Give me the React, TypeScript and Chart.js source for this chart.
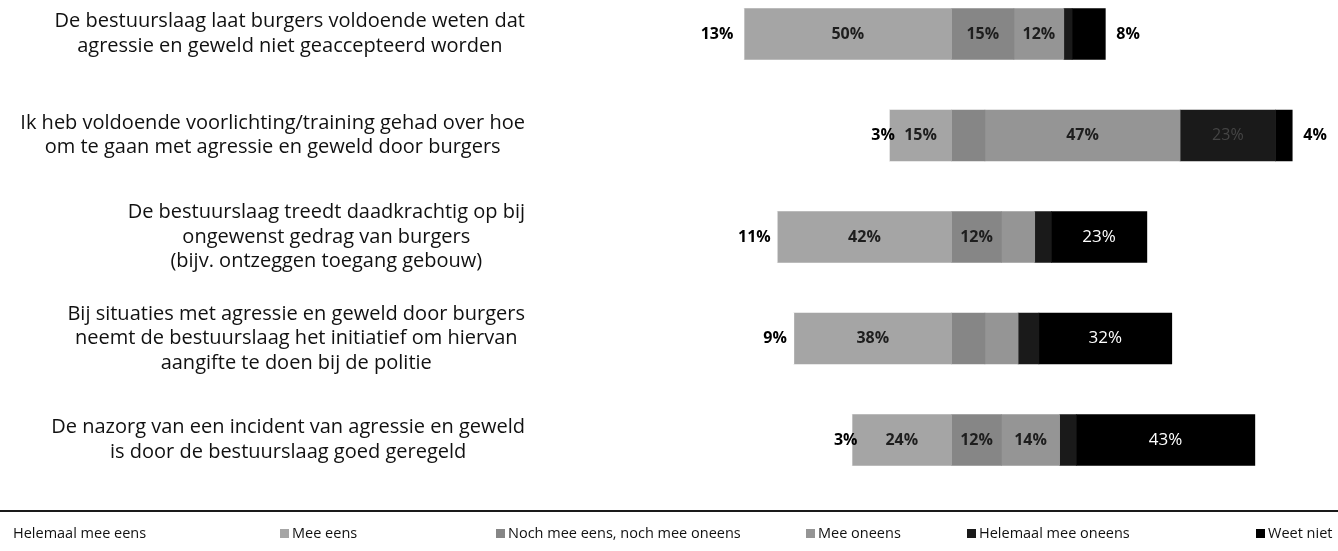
import React, { useEffect, useRef } from "react";
import { Chart, registerables } from "chart.js";

Chart.register(...registerables);

// ---------- data ----------
const categories: string[][] = [
  ["De bestuurslaag laat burgers voldoende weten dat", "agressie en geweld niet geaccepteerd worden"],
  ["Ik heb voldoende voorlichting/training gehad over hoe", "om te gaan met agressie en geweld door burgers"],
  ["De bestuurslaag treedt daadkrachtig op bij", "ongewenst gedrag van burgers", "(bijv. ontzeggen toegang gebouw)"],
  ["Bij situaties met agressie en geweld door burgers", "neemt de bestuurslaag het initiatief om hiervan", "aangifte te doen bij de politie"],
  ["De nazorg van een incident van agressie en geweld", "is door de bestuurslaag goed geregeld"],
];

const seriesNames = [
  "Helemaal mee eens",
  "Mee eens",
  "Noch mee eens, noch mee oneens",
  "Mee oneens",
  "Helemaal mee oneens",
  "Weet niet",
];

const helemaalMeeEens = [13, 3, 11, 9, 3];
const meeEens = [50, 15, 42, 38, 24];
const nochNoch = [15, 8, 12, 8, 12];
const meeOneens = [12, 47, 8, 8, 14];
const helemaalMeeOneens = [2, 23, 4, 5, 4];
const weetNiet = [8, 4, 23, 32, 43];

const seriesValues = [helemaalMeeEens, meeEens, nochNoch, meeOneens, helemaalMeeOneens, weetNiet];

// ---------- styles ----------
const seriesColors = ["#ffffff", "#a5a5a5", "#868686", "#959595", "#1a1a1a", "#000000"];
const legendMarkerX = [1, 280, 496, 806, 967, 1256];
const FONT = "'Open Sans', 'Noto Sans', sans-serif";
const LABEL_RIGHT = 525;
const LINE_H = 24.5;

// diverging offset: align the agree / rest boundary
const agreeTotals = helemaalMeeEens.map((v, i) => v + meeEens[i]);
const alignAt = Math.max(...agreeTotals);
const offsets = agreeTotals.map((t) => alignAt - t);

const categoryLabelsPlugin = {
  id: "categoryLabels",
  afterDraw(chart: any) {
    const ctx = chart.ctx;
    const yScale = chart.scales.y;
    ctx.save();
    ctx.font = `20px ${FONT}`;
    ctx.fillStyle = "#111111";
    ctx.textAlign = "center";
    ctx.textBaseline = "middle";
    categories.forEach((lines, i) => {
      const y = yScale.getPixelForValue(i);
      const maxW = Math.max(...lines.map((l) => ctx.measureText(l).width));
      const cx = LABEL_RIGHT - maxW / 2;
      const y0 = y - ((lines.length - 1) * LINE_H) / 2;
      lines.forEach((l, k) => ctx.fillText(l, cx, y0 + k * LINE_H));
    });
    ctx.restore();
  },
};

const dataLabelsPlugin = {
  id: "segmentLabels",
  afterDatasetsDraw(chart: any) {
    const ctx = chart.ctx;
    ctx.save();
    ctx.textBaseline = "middle";
    for (let s = 0; s < seriesValues.length; s++) {
      const meta = chart.getDatasetMeta(s + 1);
      const vals = seriesValues[s];
      meta.data.forEach((el: any, i: number) => {
        const v = vals[i];
        if (!v) return;
        const { x, base, y } = el.getProps(["x", "base", "y"], true);
        const cx = (x + base) / 2;
        const txt = `${v}%`;
        if (s === 0) {
          ctx.font = `bold 16px ${FONT}`;
          ctx.fillStyle = "#000000";
          ctx.textAlign = "center";
          ctx.fillText(txt, cx, y);
        } else if (s >= 1 && s <= 3) {
          if (v < 10) return;
          ctx.font = `bold 16px ${FONT}`;
          ctx.fillStyle = "#1e1e1e";
          ctx.textAlign = "center";
          ctx.fillText(txt, cx, y);
        } else if (s === 4) {
          if (v < 10) return;
          ctx.font = `16px ${FONT}`;
          ctx.fillStyle = "#454545";
          ctx.textAlign = "center";
          ctx.fillText(txt, cx, y);
        } else {
          if (v >= 10) {
            ctx.font = `17px ${FONT}`;
            ctx.fillStyle = "#ffffff";
            ctx.textAlign = "center";
            ctx.fillText(txt, cx, y);
          } else {
            ctx.font = `bold 16px ${FONT}`;
            ctx.fillStyle = "#000000";
            ctx.textAlign = "left";
            ctx.fillText(txt, Math.max(x, base) + 11, y);
          }
        }
      });
    }
    ctx.restore();
  },
};

const frameAndLegendPlugin = {
  id: "frameAndLegend",
  afterDraw(chart: any) {
    const ctx = chart.ctx;
    ctx.save();
    // horizontal separator line
    ctx.strokeStyle = "#1a1a1a";
    ctx.lineWidth = 2;
    ctx.beginPath();
    ctx.moveTo(0, 511);
    ctx.lineTo(chart.width, 511);
    ctx.stroke();
    // legend
    const ly = 534;
    ctx.font = `14.5px ${FONT}`;
    ctx.textBaseline = "middle";
    ctx.textAlign = "left";
    seriesNames.forEach((name, i) => {
      const mx = legendMarkerX[i];
      ctx.fillStyle = seriesColors[i];
      ctx.fillRect(mx, ly - 5, 9, 9);
      ctx.fillStyle = "#111111";
      ctx.fillText(name, mx + 12, ly);
    });
    ctx.restore();
  },
};

export default function App() {
  const canvasRef = useRef<HTMLCanvasElement | null>(null);

  useEffect(() => {
    if (!canvasRef.current) return;
    const datasets: any[] = [
      {
        label: "offset",
        data: offsets,
        backgroundColor: "rgba(0,0,0,0)",
        borderWidth: 0,
        barThickness: 51,
        clip: false,
      },
      ...seriesNames.map((name, s) => ({
        label: name,
        data: seriesValues[s],
        backgroundColor: seriesColors[s],
        borderWidth: 0,
        barThickness: 51,
        clip: false,
      })),
    ];
    const chart = new Chart(canvasRef.current, {
      type: "bar",
      data: {
        labels: categories.map((c) => c.join(" ")),
        datasets,
      },
      options: {
        indexAxis: "y",
        animation: false,
        responsive: false,
        maintainAspectRatio: false,
        devicePixelRatio: 1,
        layout: { padding: { left: 690, right: 25, top: 34, bottom: 111 } },
        plugins: {
          legend: { display: false },
          tooltip: { enabled: false },
          title: { display: false },
        },
        scales: {
          x: { type: "linear", stacked: true, min: 0, max: 150, display: false, grid: { display: false } },
          y: { type: "category", stacked: true, offset: false, display: false, grid: { display: false } },
        },
      } as any,
      plugins: [categoryLabelsPlugin, dataLabelsPlugin, frameAndLegendPlugin],
    });
    return () => chart.destroy();
  }, []);

  return (
    <div style={{ position: "absolute", left: 0, top: 0, width: 1338, height: 551, background: "#ffffff" }}>
      <canvas ref={canvasRef} width={1338} height={551} style={{ width: 1338, height: 551, display: "block" }} />
    </div>
  );
}
